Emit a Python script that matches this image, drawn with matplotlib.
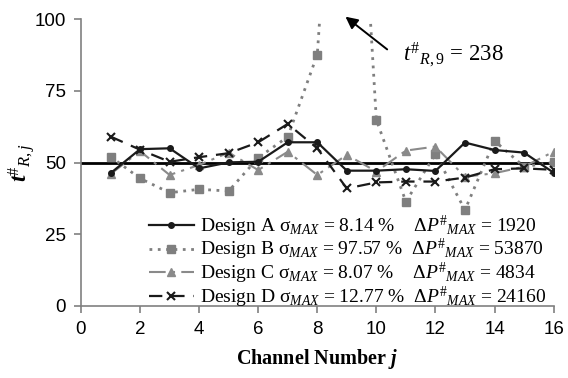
import matplotlib
matplotlib.use("Agg")
import matplotlib.pyplot as plt
import numpy as np

# ------------------------
# dados
channels = np.arange(1, 17)
design_a = [46.3, 54.7, 55.0, 48.0, 50.1, 50.3, 57.1, 57.1, 47.2, 47.2, 47.7, 47.1, 57.0, 54.4, 53.5, 46.5]
design_b = [52.1, 44.5, 39.5, 40.7, 40.1, 51.7, 59.0, 87.7, 238.0, 64.9, 36.4, 53.0, 33.5, 57.6, 48.6, 50.1]
design_c = [46.0, 54.0, 45.7, 49.2, 53.5, 47.4, 53.8, 45.7, 52.7, 46.9, 54.2, 55.6, 45.1, 46.3, 48.6, 53.8]
design_d = [59.1, 54.5, 50.3, 51.9, 53.3, 57.1, 63.5, 55.0, 41.0, 43.1, 43.4, 43.4, 44.8, 47.7, 48.0, 47.5]

names = ["Design A", "Design B", "Design C", "Design D"]
sigma_max = ["8.14", "97.57", "8.07", "12.77"]
dp_max = ["1920", "53870", "4834", "24160"]
target = 50
peak_label = "238"

x_ticks = np.arange(0, 17, 2)
y_ticks = [0, 25, 50, 75, 100]

# ------------------------
plt.rcParams['mathtext.fontset'] = 'custom'
plt.rcParams['mathtext.rm'] = 'Liberation Serif'
plt.rcParams['mathtext.it'] = 'Liberation Serif:italic'
plt.rcParams['mathtext.bf'] = 'Liberation Serif:bold:italic'

fig = plt.figure(figsize=(5.68, 3.78), dpi=100)
ax = fig.add_axes([0.1426, 0.1905, 0.832, 0.7585])

ax.axhline(target, color='k', lw=2, zorder=1)

la, = ax.plot(channels, design_a, color='#1a1a1a', lw=1.6, marker='o', ms=4, zorder=5)
lb, = ax.plot(channels, design_b, color='#7f7f7f', lw=2, ls=(0, (1, 2)), marker='s', ms=5.5, zorder=3)
lc, = ax.plot(channels, design_c, color='#8a8a8a', lw=1.5, ls=(0, (8, 3, 1.5, 3)), marker='^', ms=6, zorder=4)
ld, = ax.plot(channels, design_d, color='#1a1a1a', lw=1.6, ls=(0, (6, 4)), marker='x', ms=6, mew=1.5, zorder=4)

# ------------------------
# eixos
ax.set_xlim(0, 16)
ax.set_ylim(0, 100)
ax.set_xticks(x_ticks)
ax.set_yticks(y_ticks)
for s in ['top', 'right']:
    ax.spines[s].set_visible(False)
for s in ['left', 'bottom']:
    ax.spines[s].set_color('#808080')
    ax.spines[s].set_linewidth(1.2)
ax.tick_params(axis='both', direction='out', length=5, color='#808080', width=1.2,
               labelsize=13.5, pad=6)
for lab in ax.get_xticklabels() + ax.get_yticklabels():
    lab.set_family('Liberation Sans')

ax.set_xlabel(r'Channel Number $\mathbf{j}$', family='Liberation Serif', fontweight='bold',
              fontsize=14.5, labelpad=6)
ax.set_ylabel(r'$\mathbf{t}^{\#}{}_{\mathit{R,j}}$', fontsize=17, labelpad=-2)

# ------------------------
# legenda
pads = []
for s in sigma_max:
    pads.append('  ' * (5 - len(s)))
labels = []
for n, s, p, d in zip(names, sigma_max, pads, dp_max):
    labels.append(n + ' σ$_{\\mathit{MAX}}$ = ' + s + ' %' + p + '  Δ$P^{\\#}{}_{\\mathit{MAX}}$ = ' + d)
leg = ax.legend([la, lb, lc, ld], labels, loc='lower left', bbox_to_anchor=(0.115, -0.06),
                frameon=False, prop={'family': 'Liberation Serif', 'size': 14},
                handlelength=2.3, handletextpad=0.3, labelspacing=-0.08, borderpad=0.2)

# ------------------------
# anotacao do pico
ax.annotate('', xy=(8.88, 101.5), xytext=(10.44, 88.9), annotation_clip=False,
            arrowprops=dict(arrowstyle='-|>', color='k', lw=1.4, mutation_scale=18))
ax.text(10.9, 87.5, r'$t^{\#}{}_{R,9}$ = ' + peak_label, family='Liberation Serif',
        fontsize=16.5, ha='left', va='center')

fig.savefig('out.png', dpi=100)
